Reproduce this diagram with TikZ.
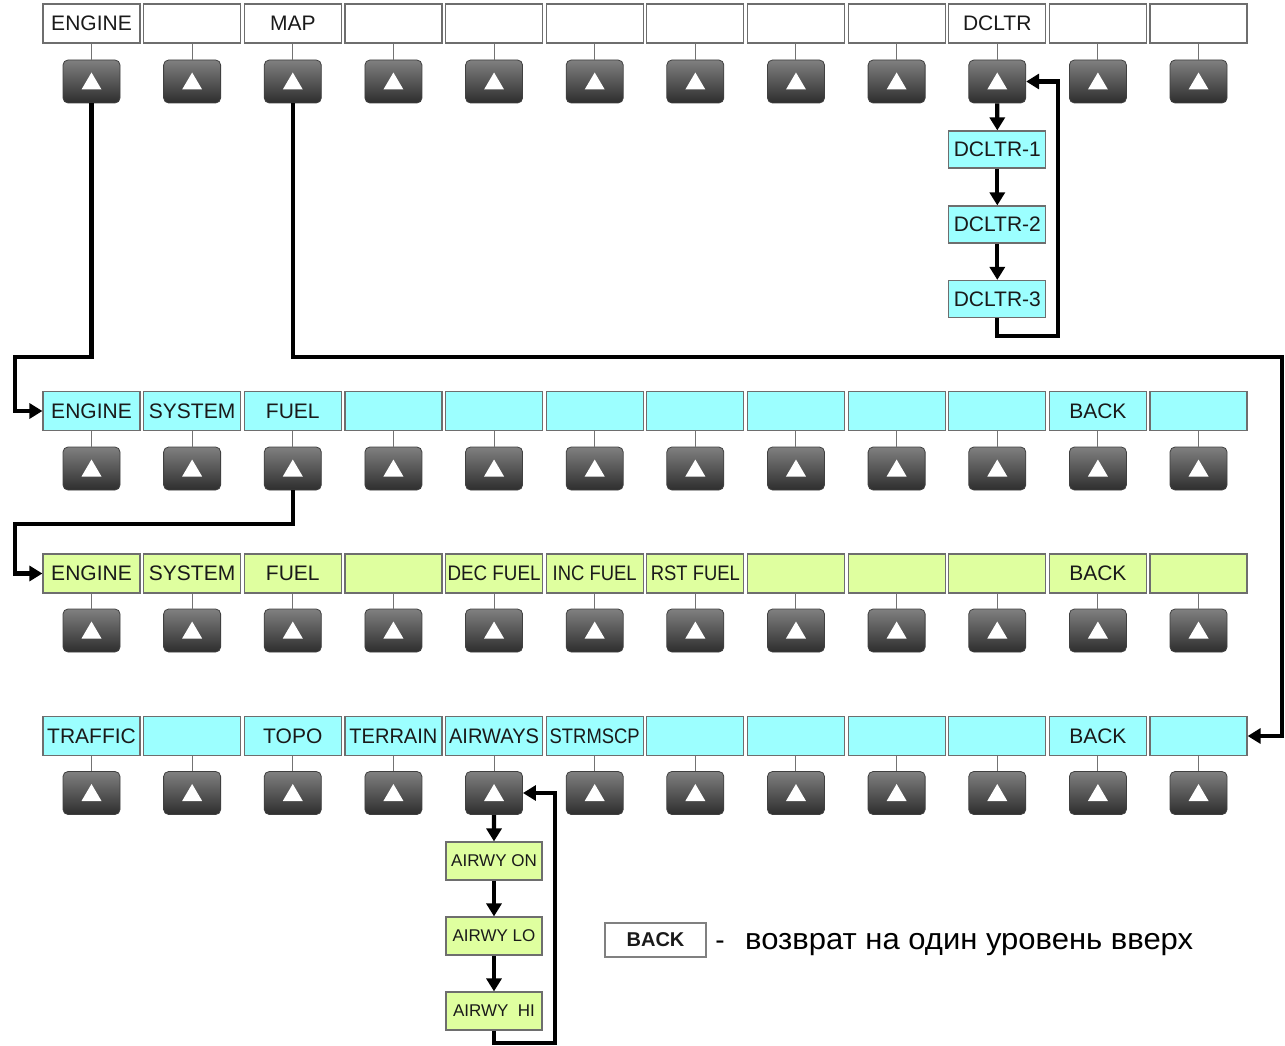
\documentclass[tikz,border=0pt]{standalone}
\usepackage{fontspec}
\usepackage{graphicx}
\setmainfont{Liberation Sans}
\usetikzlibrary{arrows.meta,calc}
\definecolor{cyanbox}{HTML}{9CFFFF}
\definecolor{greenbox}{HTML}{DFFF9F}
\definecolor{boxline}{HTML}{6E6E6E}
\definecolor{txtcol}{HTML}{1A1A1A}
\newcommand\sq[2]{\resizebox{#1pt}{\height}{#2}}
\newcommand\deftxt[3]{\expandafter\def\csname txt#1-#2\endcsname{#3}}
\deftxt{1}{1}{ENGINE}\deftxt{1}{3}{MAP}\deftxt{1}{10}{DCLTR}
\deftxt{2}{1}{ENGINE}\deftxt{2}{2}{SYSTEM}\deftxt{2}{3}{FUEL}\deftxt{2}{11}{BACK}
\deftxt{3}{1}{ENGINE}\deftxt{3}{2}{SYSTEM}\deftxt{3}{3}{FUEL}
\deftxt{3}{5}{\sq{93}{DEC FUEL}}\deftxt{3}{6}{\sq{84}{INC FUEL}}\deftxt{3}{7}{\sq{89}{RST FUEL}}\deftxt{3}{11}{BACK}
\deftxt{4}{1}{TRAFFIC}\deftxt{4}{3}{TOPO}\deftxt{4}{4}{\sq{88}{TERRAIN}}
\deftxt{4}{5}{\sq{90}{AIRWAYS}}\deftxt{4}{6}{\sq{90}{STRMSCP}}\deftxt{4}{11}{BACK}
\tikzset{
  lbl/.style={draw=boxline, line width=1.2pt, minimum width=97pt, minimum height=39pt,
    inner sep=0pt, text=txtcol, font=\fontsize{21}{23}\selectfont},
  sub/.style={lbl, minimum height=37pt},
  subg/.style={lbl, minimum width=96pt, minimum height=38pt, fill=greenbox, font=\fontsize{17}{19}\selectfont},
  btn/.style={draw=black!75, line width=0.8pt, rounded corners=5pt, minimum width=57pt,
    minimum height=43pt, top color=black!50, bottom color=black!82, inner sep=0pt},
  stem/.style={draw=black!55, line width=1pt},
  flow/.style={line width=4.3pt, -{Triangle[length=13pt,width=15pt]}}
}
\begin{document}
\begin{tikzpicture}[x=1pt,y=-1pt]
\useasboundingbox (0,0) rectangle (1285,1046);
\foreach \r/\ly/\by/\col in {1/23.5/81.5/white, 2/411/468.5/cyanbox, 3/573.5/630.5/greenbox, 4/736/793/cyanbox} {
  \foreach \c in {1,...,12} {
    \pgfmathsetmacro\cx{91.5+(\c-1)*100.64}
    \node[lbl, fill=\col] (L\r-\c) at (\cx,\ly) {\csname txt\r-\c\endcsname};
    \node[btn] (B\r-\c) at (\cx,\by) {};
    \fill[white] ($(B\r-\c.center)+(-10,8)$) -- ($(B\r-\c.center)+(10,8)$) -- ($(B\r-\c.center)+(0,-9)$) -- cycle;
    \draw[stem] (L\r-\c.south) -- (B\r-\c.north);
  }
}
% DCLTR chain
\node[sub, fill=cyanbox] (D1) at (997.3,149.5) {DCLTR-1};
\node[sub, fill=cyanbox] (D2) at (997.3,224.5) {DCLTR-2};
\node[sub, fill=cyanbox] (D3) at (997.3,299) {DCLTR-3};
\draw[flow] (B1-10.south) -- (D1.north);
\draw[flow] (D1.south) -- (D2.north);
\draw[flow] (D2.south) -- (D3.north);
\draw[flow] (D3.south) |- (1058,336) |- (B1-10.east);
% AIRWY chain
\node[subg] (A1) at (494,861) {AIRWY ON};
\node[subg] (A2) at (494,936) {AIRWY LO};
\node[subg] (A3) at (494,1011) {AIRWY\ \ HI};
\draw[flow] (B4-5.south) -- (A1.north);
\draw[flow] (A1.south) -- (A2.north);
\draw[flow] (A2.south) -- (A3.north);
\draw[flow] (A3.south) |- (555,1043) |- (B4-5.east);
% main connectors
\draw[flow] (B1-1.south) |- (15,357) |- (L2-1.west);
\draw[flow] (B1-3.south) |- (1282,357) |- (L4-12.east);
\draw[flow] (B2-3.south) |- (15,524) |- (L3-1.west);
% legend
\node[draw=black!50, line width=1.2pt, minimum width=101pt, minimum height=34pt, inner sep=0pt,
  font=\bfseries\fontsize{20}{22}\selectfont, text=txtcol] (leg) at (655.5,940) {BACK};
\node[anchor=base, font=\fontsize{28}{30}\selectfont, inner sep=0pt] (dash) at (720,949) {-};
\node[anchor=base west, inner sep=0pt, font=\fontsize{30}{32}\selectfont] (legtxt) at (745,949)
  {\resizebox{448pt}{\height}{возврат на один уровень вверх}};
\end{tikzpicture}
\end{document}
